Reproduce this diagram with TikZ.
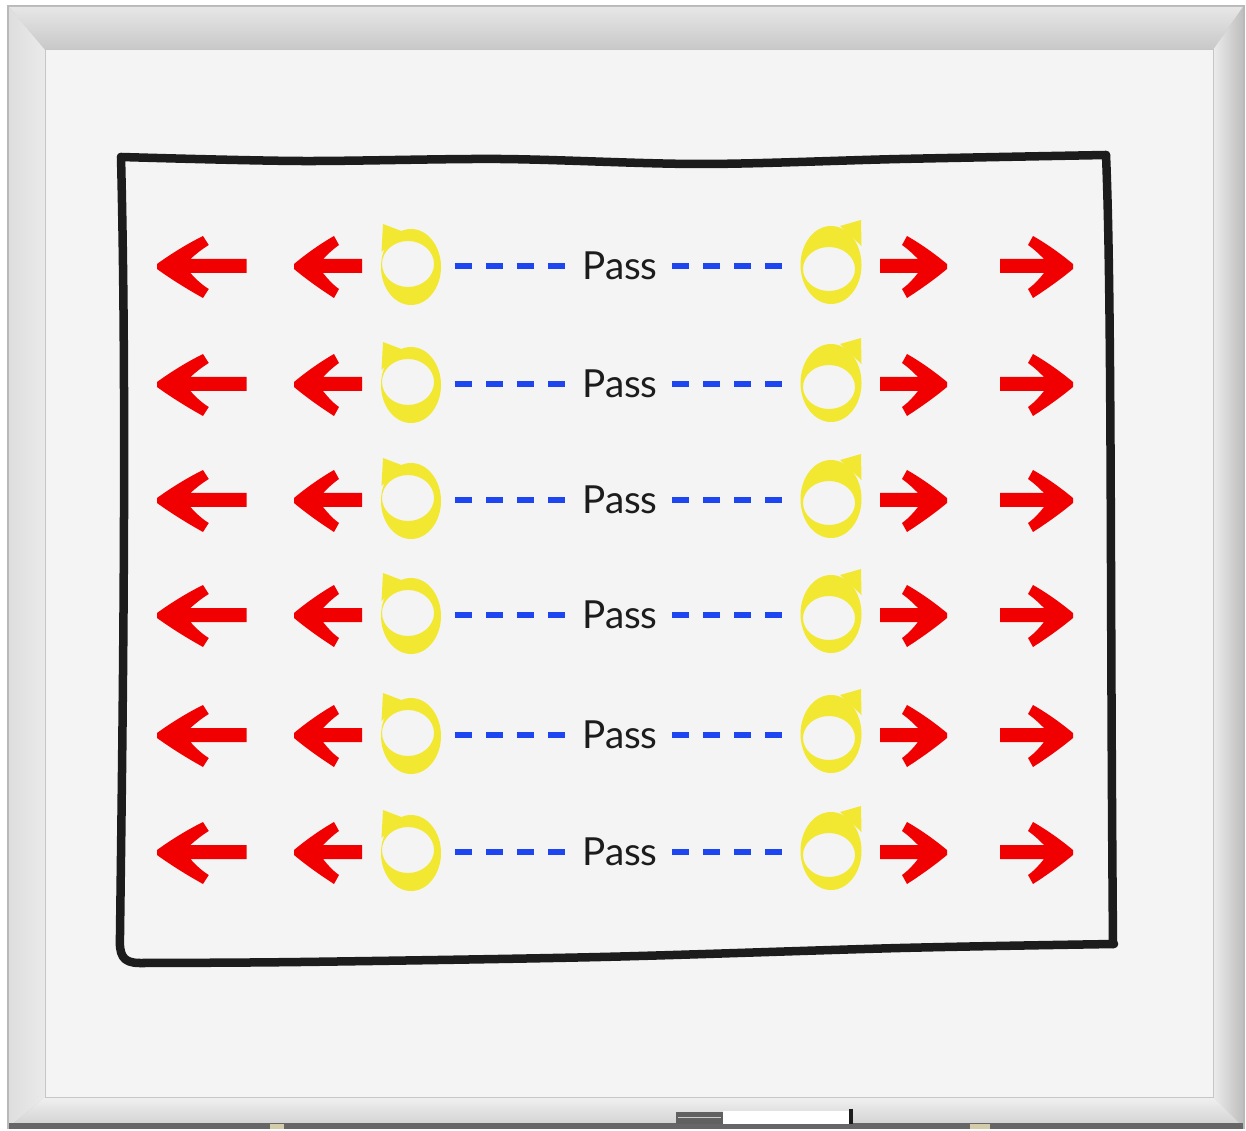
\documentclass[tikz,border=0pt]{standalone}
\usepackage{fontspec}
\newfontfamily\handfont{Lato}
\usetikzlibrary{shapes.geometric}
\definecolor{boardbg}{RGB}{244,244,244}
\definecolor{arrowred}{RGB}{240,0,0}
\definecolor{circyel}{RGB}{242,232,50}
\definecolor{passblue}{RGB}{30,70,240}
\definecolor{inkblack}{RGB}{28,28,28}
\definecolor{frA}{RGB}{230,230,230}
\definecolor{frB}{RGB}{200,200,200}
\definecolor{frC}{RGB}{222,222,222}
\definecolor{frD}{RGB}{234,234,234}
\definecolor{frE}{RGB}{236,236,236}
\definecolor{frF}{RGB}{190,190,190}
\definecolor{frG}{RGB}{240,240,240}
\definecolor{frH}{RGB}{208,208,208}
\definecolor{beige}{RGB}{212,203,170}
\tikzset{
  circnode/.style={ellipse, minimum width=0.6cm, minimum height=0.75cm, inner sep=0pt},
  ringfill/.style={fill=circyel, even odd rule},
  passtext/.style={font=\handfont\fontsize{11}{13}\selectfont, text=inkblack, inner xsep=0.14cm, inner ysep=0pt},
  passline/.style={draw=passblue, line width=0.06cm, dash pattern=on 0.17cm off 0.14cm},
  boardline/.style={draw=inkblack, line width=0.085cm, line cap=round, line join=round},
  pics/larrow/.style={code={
    \fill[arrowred] (0,-2) .. controls (12,-12) and (26,-22) .. (40,-30) -- (45,-21)
      .. controls (38,-16) and (33,-11) .. (29,-7) -- (#1,-7) -- (#1,7) -- (29,7)
      .. controls (33,12) and (38,18) .. (45,23) -- (40,32)
      .. controls (26,23) and (12,13) .. (0,3) -- cycle;
  }}
}
\begin{document}
\begin{tikzpicture}[x=0.01cm,y=-0.01cm]
\useasboundingbox (0,0) rectangle (1246,1131);
\fill[white] (0,0) rectangle (1246,1131);
% frame
\fill[gray!55] (7,5) rectangle (1245,1129);
\shade[top color=frA, bottom color=frB] (9,7) -- (1243,7) -- (1213,50) -- (45,50) -- cycle;
\shade[left color=frC, right color=frD] (9,7) -- (45,50) -- (45,1097) -- (9,1127) -- cycle;
\shade[left color=frE, right color=frF] (1243,7) -- (1213,50) -- (1213,1097) -- (1243,1127) -- cycle;
\shade[top color=frG, bottom color=frH] (9,1127) -- (45,1097) -- (1213,1097) -- (1243,1127) -- cycle;
\fill[gray!80!black] (9,1123) rectangle (1243,1129);
\fill[boardbg] (45,50) rectangle (1213,1097);
\draw[gray!45, line width=0.01cm] (45,50) rectangle (1213,1097);
% tray items
\fill[gray!75!black] (676,1112) rectangle (723,1124);
\draw[gray!40, line width=0.01cm] (678,1117) -- (721,1117);
\fill[white] (723,1111) rectangle (850,1124);
\fill[inkblack] (849,1109) rectangle (853,1124);
\fill[beige] (970,1124) rectangle (990,1129);
\fill[beige] (270,1124) rectangle (284,1129);
% hand-drawn rectangle
\draw[boardline] plot[smooth] coordinates {(121,157) (300,161) (500,159) (700,164) (900,159) (1106,155)};
\draw[boardline] (1106,155) .. controls (1112,300) and (1110,600) .. (1113,944);
\draw[boardline] plot[smooth] coordinates {(1114,944) (900,948) (600,957) (300,962) (140,963)};
\draw[boardline] (140,963) .. controls (122,963) and (119,955) .. (120,935)
  .. controls (123,700) and (127,400) .. (121,157);
% rows
\foreach \y [count=\i] in {266,384,500,615,735,852} {
  \pic[xscale=1.15] at (157,\y) {larrow=78};
  \pic at (294,\y) {larrow=68};
  \pic[xscale=-1] at (947,\y) {larrow=67};
  \pic[xscale=-1] at (1073,\y) {larrow=73};
  % left ring
  \node[circnode] (L\i) at (411,\y) {};
  \fill[ringfill] (411,\y+1) ellipse [x radius=30, y radius=38]
                  (408,\y-2) ellipse [x radius=26, y radius=23];
  \fill[circyel] (381.5,\y-14) -- (383,\y-42) -- (404,\y-34) -- cycle;
  % right ring
  \node[circnode] (R\i) at (832,\y) {};
  \fill[ringfill] (831,\y-1) ellipse [x radius=30.5, y radius=39]
                  (829,\y+3) ellipse [x radius=26, y radius=22];
  \fill[circyel] (840,\y-40) -- (861,\y-46) -- (861.5,\y-20) -- cycle;
  % pass label and dashed connectors
  \node[passtext] (P\i) at (620,\y) {Pass};
  \draw[passline, shorten <=0.13cm] (L\i) -- (P\i);
  \draw[passline, shorten >=0.18cm] (P\i) -- (R\i);
}
\end{tikzpicture}
\end{document}
